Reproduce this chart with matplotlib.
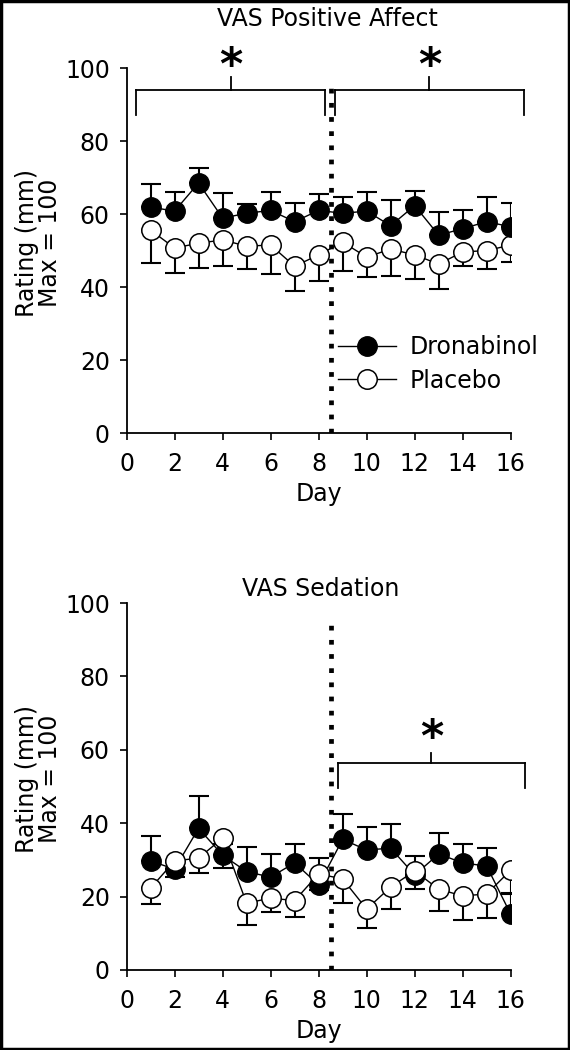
import numpy as np
import matplotlib
matplotlib.use("Agg")
import matplotlib.pyplot as plt
from matplotlib.patches import Rectangle

plt.rcParams['font.family'] = ['DejaVu Sans']

days = np.arange(1, 17)

# VAS Positive Affect
pa_drona = [61.9, 60.8, 68.5, 58.9, 60.2, 61.0, 57.9, 61.0, 60.2, 60.8, 56.8, 62.3, 54.2, 56.0, 57.9, 56.5]
pa_drona_err = [6.3, 5.2, 4.1, 6.8, 2.5, 5.0, 5.1, 4.5, 4.4, 5.2, 7.0, 4.0, 6.4, 5.0, 6.7, 6.5]
pa_plac = [55.6, 50.7, 52.0, 52.9, 51.2, 51.5, 45.7, 48.8, 52.3, 48.2, 50.4, 48.8, 46.3, 49.6, 50.0, 51.5]
pa_plac_err = [9.1, 6.9, 6.8, 7.2, 6.3, 8.0, 6.8, 7.2, 7.9, 5.5, 7.4, 6.6, 6.8, 3.9, 5.1, 4.7]

# VAS Sedation
sed_drona = [29.7, 27.5, 38.6, 31.3, 26.8, 25.3, 29.2, 23.2, 35.6, 32.7, 33.2, 25.9, 31.6, 29.2, 28.3, 15.2]
sed_drona_err = [6.8, 2.0, 8.8, 3.0, 6.8, 6.3, 5.1, 7.3, 6.9, 6.3, 6.6, 5.1, 5.7, 5.1, 4.9, 5.5]
sed_plac = [22.3, 29.7, 30.5, 35.9, 18.2, 19.6, 18.9, 26.2, 24.8, 16.6, 22.6, 27.0, 22.0, 20.2, 20.7, 27.2]
sed_plac_err = [4.3, 4.3, 4.1, 8.2, 5.9, 3.8, 4.4, 4.4, 6.5, 5.2, 6.0, 5.0, 5.9, 6.6, 6.5, 6.2]

FS = 17

fig = plt.figure(figsize=(5.7, 10.5), dpi=100)
ax1 = fig.add_axes([0.222, 0.5876, 0.674, 0.3476])
ax2 = fig.add_axes([0.222, 0.0762, 0.674, 0.3495])


def panel(ax, drona, drona_err, plac, plac_err, plac_on_top):
    zeros = np.zeros(len(days))
    ax.errorbar(days, drona, yerr=[zeros, drona_err], fmt='none', ecolor='black',
                elinewidth=1.5, capsize=7, capthick=1.5, zorder=2)
    ax.errorbar(days, plac, yerr=[plac_err, zeros], fmt='none', ecolor='black',
                elinewidth=1.5, capsize=7, capthick=1.5, zorder=2)
    zd, zp = (3, 4) if plac_on_top else (4, 3)
    hd, = ax.plot(days, drona, '-o', color='black', lw=1, ms=14,
                  mfc='black', mec='black', zorder=zd, label='Dronabinol')
    hp, = ax.plot(days, plac, '-o', color='black', lw=1, ms=14,
                  mfc='white', mec='black', mew=1.1, zorder=zp, label='Placebo')
    ax.axvline(8.5, ymin=0, ymax=0.96, color='black', lw=3.4, dashes=(1, 2), zorder=5)
    ax.set_xlim(0, 16)
    ax.set_ylim(0, 100)
    ax.set_xticks(range(0, 17, 2))
    ax.set_yticks(range(0, 101, 20))
    ax.tick_params(labelsize=FS, length=5, width=1.2, direction='out', pad=7)
    ax.tick_params(axis='x', pad=9)
    for s in ['top', 'right']:
        ax.spines[s].set_visible(False)
    for s in ['left', 'bottom']:
        ax.spines[s].set_linewidth(1.3)
    ax.set_xlabel('Day', fontsize=FS, labelpad=4)
    ax.set_ylabel('Rating (mm)\nMax = 100', fontsize=FS, linespacing=0.95)
    ax.yaxis.set_label_coords(-0.168, 0.52)
    return hd, hp


def bracket(ax, x0, x1, y, drop, tick, star_y):
    kw = dict(color='black', lw=1.3, clip_on=False)
    ax.plot([x0, x1], [y, y], **kw)
    ax.plot([x0, x0], [y, y - drop], **kw)
    ax.plot([x1, x1], [y, y - drop], **kw)
    xm = (x0 + x1) / 2
    ax.plot([xm, xm], [y, y + tick], **kw)
    ax.text(xm, star_y, '*', fontsize=32, fontweight='bold', ha='center',
            va='center', clip_on=False)


hd, hp = panel(ax1, pa_drona, pa_drona_err, pa_plac, pa_plac_err, False)
panel(ax2, sed_drona, sed_drona_err, sed_plac, sed_plac_err, True)

bracket(ax1, 0.4, 8.27, 94, 7, 3.5, 100.5)
bracket(ax1, 8.67, 16.55, 94, 7, 3.5, 100.5)
bracket(ax2, 8.8, 16.6, 56.4, 6.8, 2.7, 63)

ax1.legend(handles=[hd, hp], loc='upper left', bbox_to_anchor=(0.55, 0.268),
           frameon=False, fontsize=FS, handlelength=2.45, handletextpad=0.6,
           borderpad=0, borderaxespad=0, labelspacing=0.4)

fig.text(0.574, 0.982, 'VAS Positive Affect', fontsize=FS, ha='center', va='center')
fig.text(0.562, 0.439, 'VAS Sedation', fontsize=FS, ha='center', va='center')

fig.add_artist(Rectangle((0.002, 0.001), 0.996, 0.998, transform=fig.transFigure,
                         fill=False, edgecolor='black', lw=2.5))

fig.savefig('out.png', dpi=100)
